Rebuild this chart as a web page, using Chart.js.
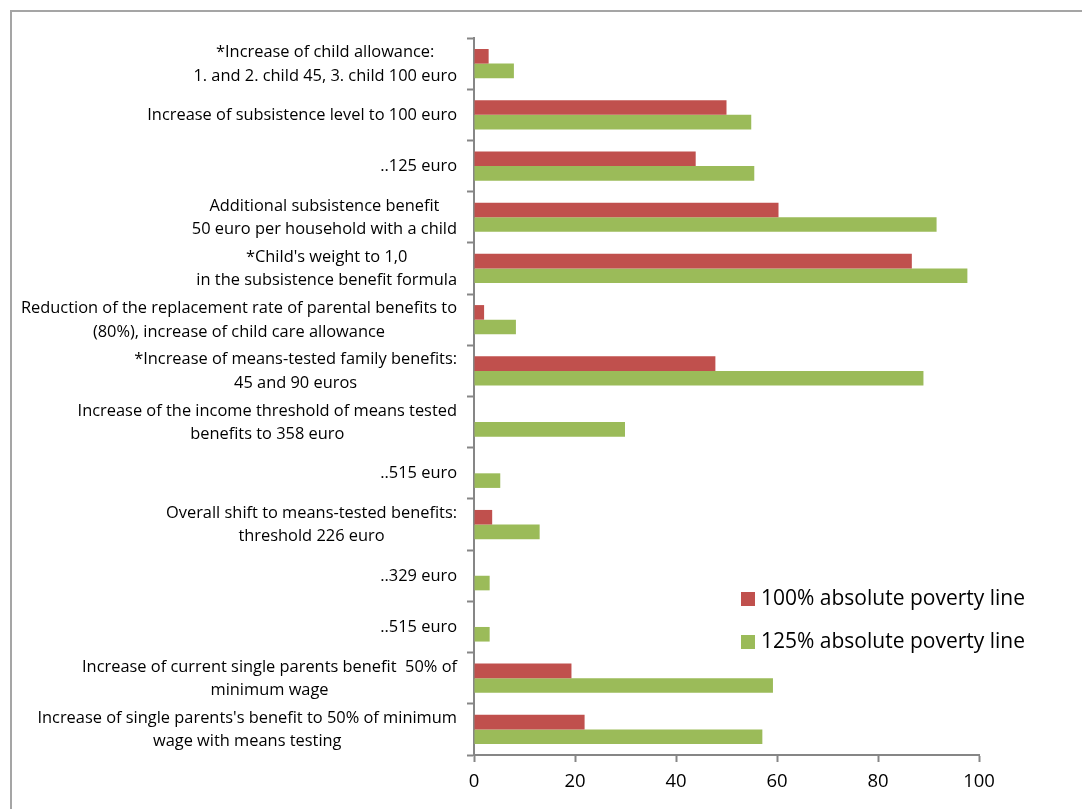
<!DOCTYPE html>
<html>
<head>
<meta charset="utf-8">
<script src="https://cdn.jsdelivr.net/npm/chart.js@4/dist/chart.umd.min.js"></script>
<style>
  html, body { margin: 0; padding: 0; background: #fff; overflow: hidden; }
  canvas { display: block; }
</style>
</head>
<body>
<canvas id="povertyChart" width="1082" height="809"></canvas>
<script>
// categories (top to bottom) and the two poverty line series
const categories = [
    ['*Increase of child allowance:', '1. and 2. child 45, 3. child 100 euro'],
    ['Increase of subsistence level to 100 euro'],
    ['..125 euro'],
    ['Additional subsistence benefit', '50 euro per household with a child'],
    ["*Child's weight to 1,0", 'in the subsistence benefit formula'],
    ['Reduction of the replacement rate of parental benefits to', '(80%), increase of child care allowance'],
    ['*Increase of means-tested family benefits:', '45 and 90 euros'],
    ['Increase of the income threshold of means tested', 'benefits to 358 euro'],
    ['..515 euro'],
    ['Overall shift to means-tested benefits:', 'threshold 226 euro'],
    ['..329 euro'],
    ['..515 euro'],
    ['Increase of current single parents benefit  50% of', 'minimum wage'],
    ["Increase of single parents's benefit to 50% of minimum", 'wage with means testing']
];
const line100 = [2.9, 50.0, 43.9, 60.3, 86.7, 2.0, 47.8, 0, 0, 3.6, 0, 0, 19.3, 21.9];
const line125 = [7.9, 54.9, 55.5, 91.6, 97.7, 8.3, 89.0, 29.9, 5.2, 13.0, 3.1, 3.1, 59.2, 57.1];
const seriesNames = ['100% absolute poverty line', '125% absolute poverty line'];
const xTicks = [0, 20, 40, 60, 80, 100];

const RED = '#C0504D';
const GREEN = '#9BBB59';
const AXIS = '#868686';
const FONT = '"Open Sans", Lato, sans-serif';

// white background plus the grey frame along the top and left
const framePlugin = {
    id: 'frame',
    beforeDraw(chart) {
        const ctx = chart.ctx;
        ctx.save();
        ctx.fillStyle = '#fff';
        ctx.fillRect(0, 0, chart.width, chart.height);
        ctx.strokeStyle = '#a5a5a5';
        ctx.lineWidth = 2;
        ctx.beginPath();
        ctx.moveTo(11, chart.height);
        ctx.lineTo(11, 11);
        ctx.lineTo(chart.width, 11);
        ctx.stroke();
        ctx.restore();
    }
};

// category labels: lines centred on each other, block right-aligned to the axis
const categoryLabels = {
    id: 'categoryLabels',
    afterDraw(chart) {
        const ctx = chart.ctx;
        const yScale = chart.scales.y;
        const right = chart.chartArea.left - 17;
        const lh = 23.5;
        ctx.save();
        ctx.font = '16.4px ' + FONT;
        ctx.fillStyle = '#000';
        ctx.textBaseline = 'middle';
        ctx.textAlign = 'center';
        categories.forEach((lines, i) => {
            const yc = yScale.getPixelForTick(i) + 0.5;
            const w = Math.max(...lines.map(l => ctx.measureText(l).width));
            const xc = right - w / 2;
            lines.forEach((l, j) => {
                ctx.fillText(l, xc, yc + (j - (lines.length - 1) / 2) * lh);
            });
        });
        ctx.restore();
    }
};

// legend sitting inside the plot, lower right
const insideLegend = {
    id: 'insideLegend',
    afterDraw(chart) {
        const ctx = chart.ctx;
        const area = chart.chartArea;
        const x = area.left + 267;
        const y0 = 599;
        ctx.save();
        ctx.font = '21px ' + FONT;
        ctx.textBaseline = 'middle';
        ctx.textAlign = 'left';
        chart.data.datasets.forEach((ds, i) => {
            const y = y0 + i * 43;
            ctx.fillStyle = ds.backgroundColor;
            ctx.fillRect(x, y - 7, 14, 14);
            ctx.fillStyle = '#000';
            ctx.fillText(ds.label, x + 20, y);
        });
        ctx.restore();
    }
};

new Chart(document.getElementById('povertyChart'), {
    type: 'bar',
    data: {
        labels: categories,
        datasets: [
            { label: seriesNames[0], data: line100, backgroundColor: RED },
            { label: seriesNames[1], data: line125, backgroundColor: GREEN }
        ]
    },
    options: {
        indexAxis: 'y',
        responsive: false,
        animation: false,
        datasets: { bar: { categoryPercentage: 0.57, barPercentage: 1.0 } },
        layout: { padding: { top: 38, right: 103, bottom: 0, left: 0 } },
        plugins: {
            legend: { display: false },
            tooltip: { enabled: false }
        },
        scales: {
            x: {
                min: 0,
                max: 100,
                afterFit(scale) { scale.height = 54; },
                afterBuildTicks(scale) { scale.ticks = xTicks.map(v => ({ value: v })); },
                grid: { drawOnChartArea: false, drawTicks: true, tickLength: 7, tickColor: AXIS, tickWidth: 2 },
                border: { color: AXIS, width: 2 },
                ticks: { color: '#000', padding: 9, font: { family: FONT, size: 18.5 } }
            },
            y: {
                offset: true,
                afterFit(scale) { scale.width = 474; },
                grid: { offset: true, drawOnChartArea: false, drawTicks: true, tickLength: 7, tickColor: AXIS, tickWidth: 2 },
                border: { color: AXIS, width: 2 },
                ticks: { display: false }
            }
        }
    },
    plugins: [framePlugin, categoryLabels, insideLegend]
});
</script>
</body>
</html>
